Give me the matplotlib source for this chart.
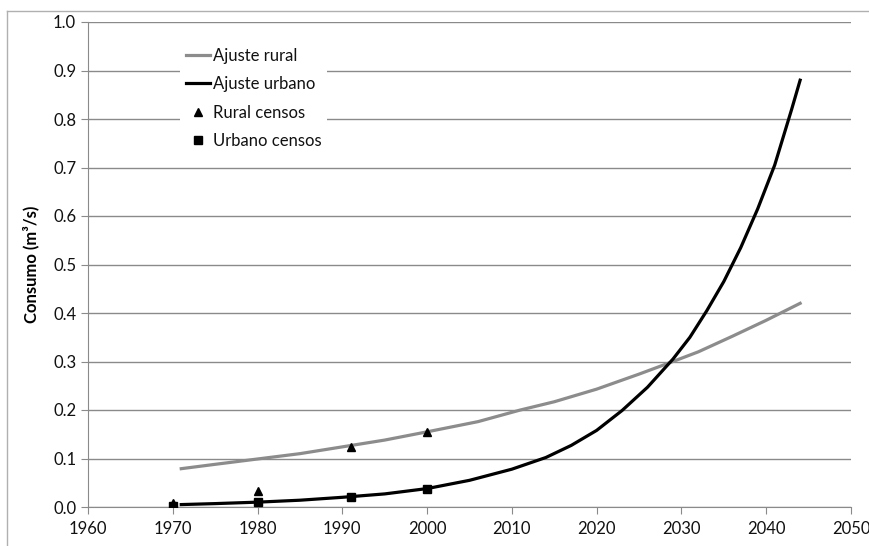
import matplotlib.pyplot as plt
from matplotlib.lines import Line2D

# fitted curves (m3/s)
rural_years = [1971, 1975, 1980, 1985, 1990, 1995, 2000, 2006, 2011, 2015,
               2020, 2025, 2029, 2032, 2036, 2040, 2044]
rural_fit = [0.079, 0.088, 0.099, 0.110, 0.124, 0.138, 0.155, 0.176, 0.200, 0.217,
             0.243, 0.274, 0.300, 0.320, 0.352, 0.385, 0.420]

urban_years = [1971, 1975, 1980, 1985, 1990, 1995, 2000, 2005, 2010, 2014, 2017,
               2020, 2023, 2026, 2029, 2031, 2033, 2035, 2037, 2039, 2041, 2043, 2044]
urban_fit = [0.005, 0.007, 0.010, 0.014, 0.020, 0.027, 0.038, 0.055, 0.078, 0.102, 0.127,
             0.158, 0.199, 0.247, 0.305, 0.350, 0.405, 0.465, 0.535, 0.615, 0.705, 0.820, 0.880]

# census observations
census_years = [1970, 1980, 1991, 2000]
rural_census = [0.008, 0.034, 0.124, 0.154]
urban_census = [0.002, 0.011, 0.020, 0.038]

plt.rcParams["font.family"] = ["Lato", "DejaVu Sans"]

fig = plt.figure(figsize=(8.69, 5.46), dpi=100)
ax = fig.add_axes([88 / 869, 1 - 507 / 546, (851 - 88) / 869, (507 - 22) / 546])

# outer chart border (top and left edges visible)
fig.add_artist(Line2D([7 / 869, 7 / 869], [0, 1 - 11 / 546], transform=fig.transFigure,
                      color="#b0b0b0", lw=1))
fig.add_artist(Line2D([7 / 869, 1], [1 - 11 / 546, 1 - 11 / 546], transform=fig.transFigure,
                      color="#b0b0b0", lw=1))

ax.plot(rural_years, rural_fit, color="#8c8c8c", lw=2.3, label="Ajuste rural", zorder=3)
ax.plot(urban_years, urban_fit, color="black", lw=2.3, label="Ajuste urbano", zorder=3)
ax.plot(census_years, rural_census, "^", color="black", ms=6, ls="none",
        label="Rural censos", zorder=4)
ax.plot(census_years, urban_census, "s", color="black", ms=6, ls="none",
        label="Urbano censos", zorder=4)

ax.set_xlim(1960, 2050)
ax.set_ylim(0, 1.0)
ax.set_xticks(range(1960, 2051, 10))
ax.set_yticks([i / 10 for i in range(11)])
ax.set_yticklabels([f"{i / 10:.1f}" for i in range(11)])

ax.grid(axis="y", color="#8a8a8a", lw=1)
ax.set_axisbelow(True)
for side in ("top", "right"):
    ax.spines[side].set_visible(False)
for side in ("left", "bottom"):
    ax.spines[side].set_color("#8a8a8a")
ax.tick_params(axis="both", colors="#8a8a8a", labelcolor="#111111", labelsize=12,
               length=5, direction="out")
ax.tick_params(axis="x", pad=5)

ax.set_ylabel("Consumo (m³/s)", fontsize=12, fontweight="bold", labelpad=10)

leg = ax.legend(loc="upper left", bbox_to_anchor=(0.11, 0.976), frameon=True,
                facecolor="white", edgecolor="none", framealpha=1, fontsize=12,
                handlelength=1.45, handletextpad=0.15, labelspacing=0.75,
                borderpad=0.35, labelcolor="#111111")
leg.get_frame().set_linewidth(0)

fig.savefig("out.png", dpi=100)
